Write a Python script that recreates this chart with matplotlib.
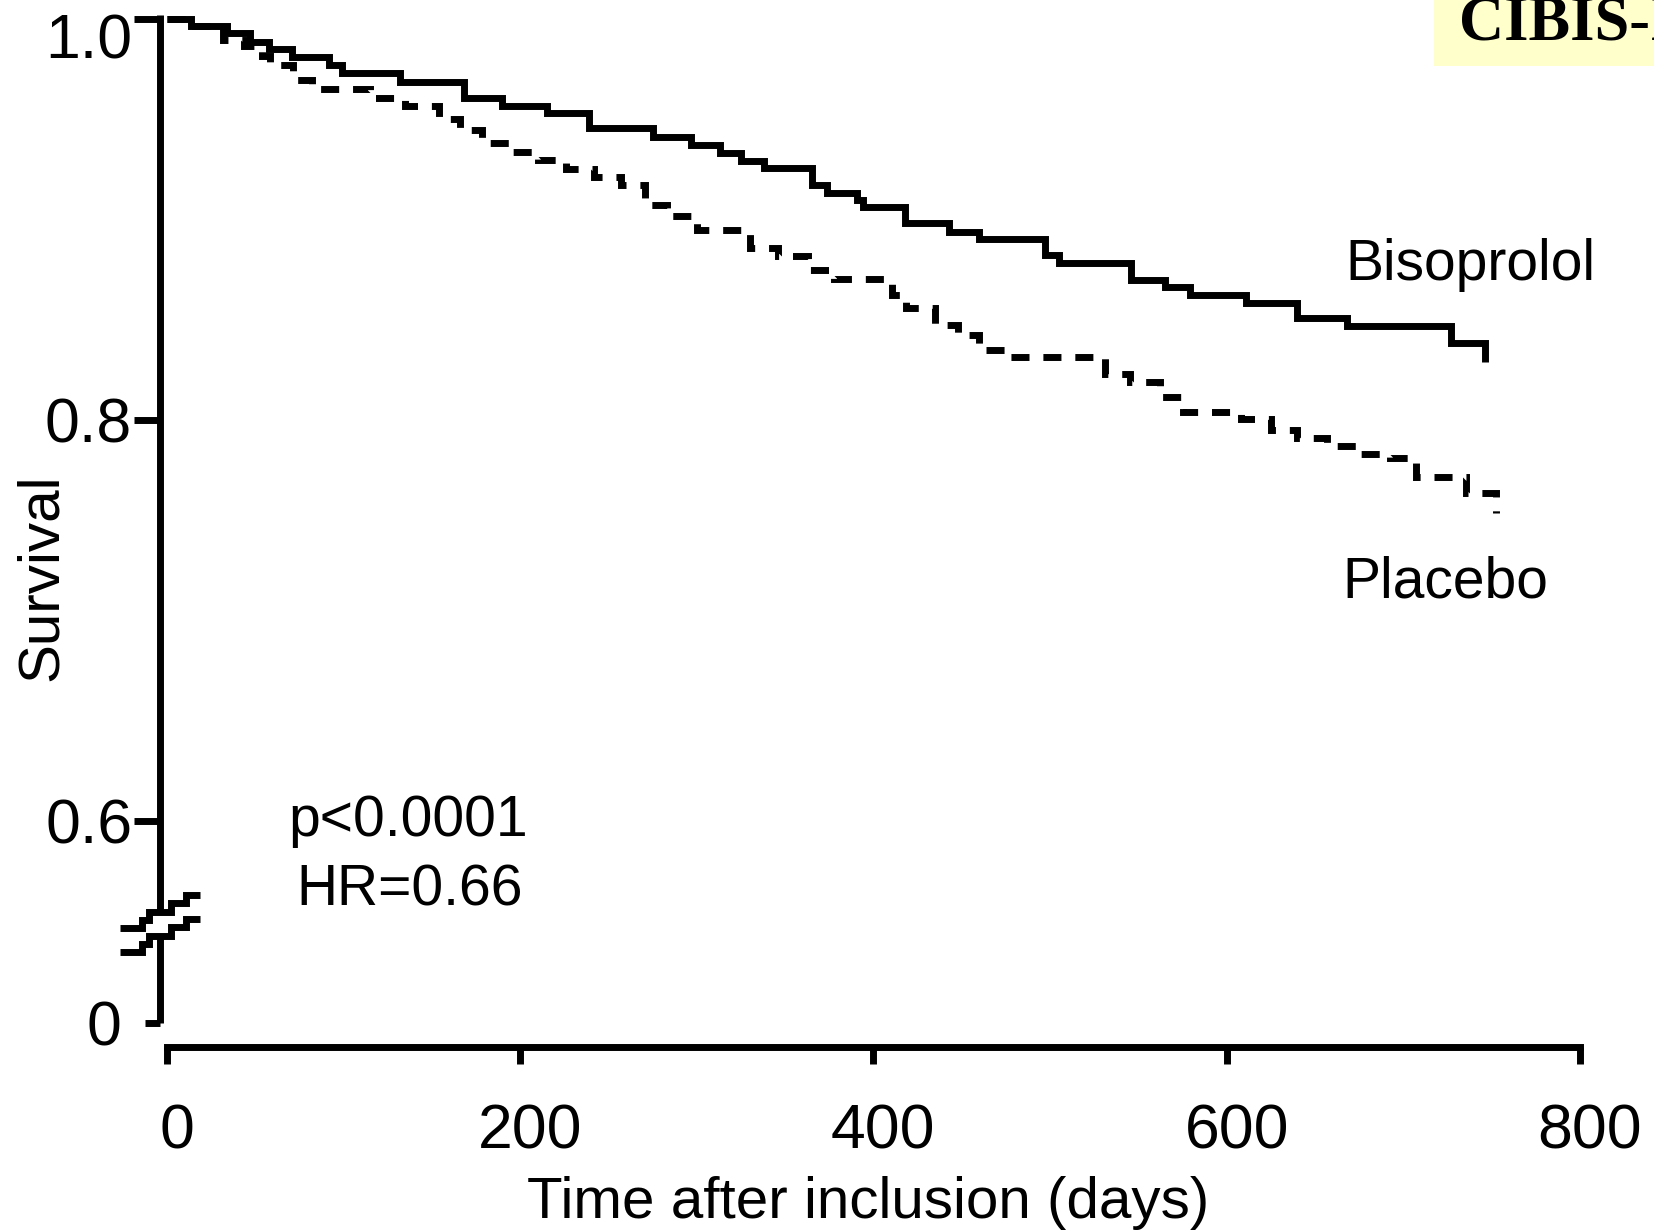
import matplotlib
matplotlib.use("Agg")
import matplotlib.pyplot as plt
import matplotlib.transforms as mtransforms
from matplotlib.lines import Line2D
from matplotlib.patches import Rectangle

# ---------------- data ----------------
bis_days = [0, 14, 34, 47, 58, 71, 92, 99, 132, 168, 190, 215, 239, 275, 297, 313, 325, 338,
            365, 374, 391, 394, 418, 443, 460, 497, 505, 546, 565, 579, 611, 640, 668, 727, 746]
bis_surv = [1.0, 0.9965, 0.993, 0.9885, 0.985, 0.981, 0.977, 0.973, 0.9686, 0.9606, 0.9566,
            0.953, 0.9456, 0.941, 0.937, 0.933, 0.929, 0.9256, 0.9172, 0.9132, 0.9097, 0.9062,
            0.8982, 0.8937, 0.8902, 0.8822, 0.8782, 0.8698, 0.8663, 0.8623, 0.8583, 0.8508,
            0.8468, 0.8383, 0.8288]

pla_days = [0, 13.8, 32, 44, 54, 58.5, 71.5, 82, 115, 135, 154, 166, 178.5, 194, 210, 226, 242,
            257, 271, 283, 300, 330, 346, 363, 378, 410.5, 418.5, 435, 448, 460, 477, 531, 545,
            562, 575, 608, 625, 640, 657, 675.5, 692.5, 707, 735.5, 752.5]
pla_surv = [1.0, 0.9965, 0.9895, 0.9865, 0.9815, 0.9771, 0.9696, 0.9651, 0.9606, 0.9566, 0.9501,
            0.9446, 0.9381, 0.9336, 0.9296, 0.9251, 0.9212, 0.9172, 0.9072, 0.9017, 0.8947,
            0.8857, 0.8817, 0.8747, 0.8702, 0.8622, 0.8558, 0.8473, 0.8423, 0.8348, 0.8313,
            0.8229, 0.8189, 0.8114, 0.8039, 0.8004, 0.7949, 0.7909, 0.7869, 0.7829, 0.7809,
            0.7715, 0.7635, 0.7535]

x_ticks = [0, 200, 400, 600, 800]
x_ticklabels = ["0", "200", "400", "600", "800"]
y_ticks = [0.6, 0.8, 1.0]
y_ticklabels = ["0.6", "0.8", "1.0"]
series_labels = ["Bisoprolol", "Placebo"]
stats_text = ["p<0.0001", "HR=0.66"]
title_text = "CIBIS-II"
xlabel_text = "Time after inclusion (days)"
ylabel_text = "Survival"

# ---------------- layout helpers ----------------
W, H = 1654, 1230
plt.rcParams['font.family'] = ['Liberation Sans', 'DejaVu Sans']
fig = plt.figure(figsize=(W / 100, H / 100), dpi=100)


def fx(px):
    return px / W


def fy(py):
    return 1 - py / H


def box(l, t, r, b):
    return [fx(l), fy(b), fx(r) - fx(l), fy(t) - fy(b)]


AX_LW = 5.0
CURVE_LW = 5.0

# main axes (upper part of broken y axis)
ax = fig.add_axes(box(160, 15, 1580, 912))
ax.set_xlim(-3.8, 800)
ax.set_ylim(0.5544, 1.002)
for s in ["top", "right", "bottom"]:
    ax.spines[s].set_visible(False)
ax.spines["left"].set_linewidth(AX_LW)
ax.spines["left"].set_capstyle("butt")
ax.set_xticks([])
ax.set_yticks(y_ticks)
ax.set_yticklabels(y_ticklabels, fontsize=45)
ax.tick_params(axis="y", direction="out", length=19, width=AX_LW, pad=1)
ax.patch.set_visible(False)

# shift the 1.0 label down a bit as in reference
lab = ax.get_yticklabels()[-1]
lab.set_transform(lab.get_transform() +
                  mtransforms.ScaledTranslation(0, -16 / 100, fig.dpi_scale_trans))

ax.plot(bis_days, bis_surv, drawstyle="steps-post", color="black", lw=CURVE_LW,
        solid_capstyle="butt", solid_joinstyle="miter", clip_on=False)
ax.plot(pla_days, pla_surv, drawstyle="steps-post", color="black", lw=CURVE_LW,
        dashes=(2.6, 2.0), dash_capstyle="butt", dash_joinstyle="miter", clip_on=False)

# lower axes (y = 0 part)
ax2 = fig.add_axes(box(160, 938, 1580, 1023))
ax2.set_xlim(-3.8, 800)
ax2.set_ylim(0, 85 / 2004)
for s in ["top", "right"]:
    ax2.spines[s].set_visible(False)
ax2.spines["left"].set_linewidth(AX_LW)
ax2.spines["left"].set_capstyle("butt")
ax2.spines["bottom"].set_linewidth(AX_LW)
ax2.spines["bottom"].set_position(("outward", 17.3))
ax2.spines["bottom"].set_bounds(0, 800)
ax2.set_yticks([0])
ax2.set_yticklabels(["0"], fontsize=45)
ax2.tick_params(axis="y", direction="out", length=11, width=AX_LW, pad=16.5)
ax2.set_xticks(x_ticks)
ax2.set_xticklabels(x_ticklabels, fontsize=45)
ax2.tick_params(axis="x", direction="out", length=12, width=AX_LW, pad=28)
ax2.patch.set_visible(False)
for lab in ax2.get_xticklabels():
    lab.set_transform(lab.get_transform() +
                      mtransforms.ScaledTranslation(10 / 100, 0, fig.dpi_scale_trans))

# axis break marks (stair-stepped, as in the reference)
brk_x = [120, 142, 149, 171, 186, 200]
for y0 in (928, 952):
    ys = [y0, y0 - 8, y0 - 16, y0 - 25, y0 - 33, y0 - 33]
    fig.add_artist(Line2D([fx(v) for v in brk_x], [fy(v) for v in ys],
                          transform=fig.transFigure, color="black", lw=5,
                          drawstyle="steps-post", solid_capstyle="butt",
                          solid_joinstyle="miter"))

# series labels
fig.text(fx(1345), fy(280), series_labels[0], fontsize=41, ha="left", va="baseline")
fig.text(fx(1342), fy(597), series_labels[1], fontsize=41, ha="left", va="baseline")

# stats
fig.text(fx(408), fy(836), stats_text[0], fontsize=41, ha="center", va="baseline")
fig.text(fx(410), fy(905), stats_text[1], fontsize=41, ha="center", va="baseline")

# axis labels
fig.text(fx(868), fy(1218), xlabel_text, fontsize=42, ha="center", va="baseline")
fig.text(fx(42), fy(577), ylabel_text, fontsize=42, ha="center", va="center", rotation=90)

# title box (cut off at right edge, as in the reference)
fig.add_artist(Rectangle((fx(1434), fy(66)), 1 - fx(1434), fy(0) - fy(66),
                         transform=fig.transFigure, facecolor="#ffffcc", edgecolor="none",
                         zorder=0))
fig.text(fx(1459), fy(40), title_text, fontsize=45, ha="left", va="baseline",
         family=["Liberation Serif", "DejaVu Serif"], fontweight="bold")

fig.savefig("out.png", dpi=100)
